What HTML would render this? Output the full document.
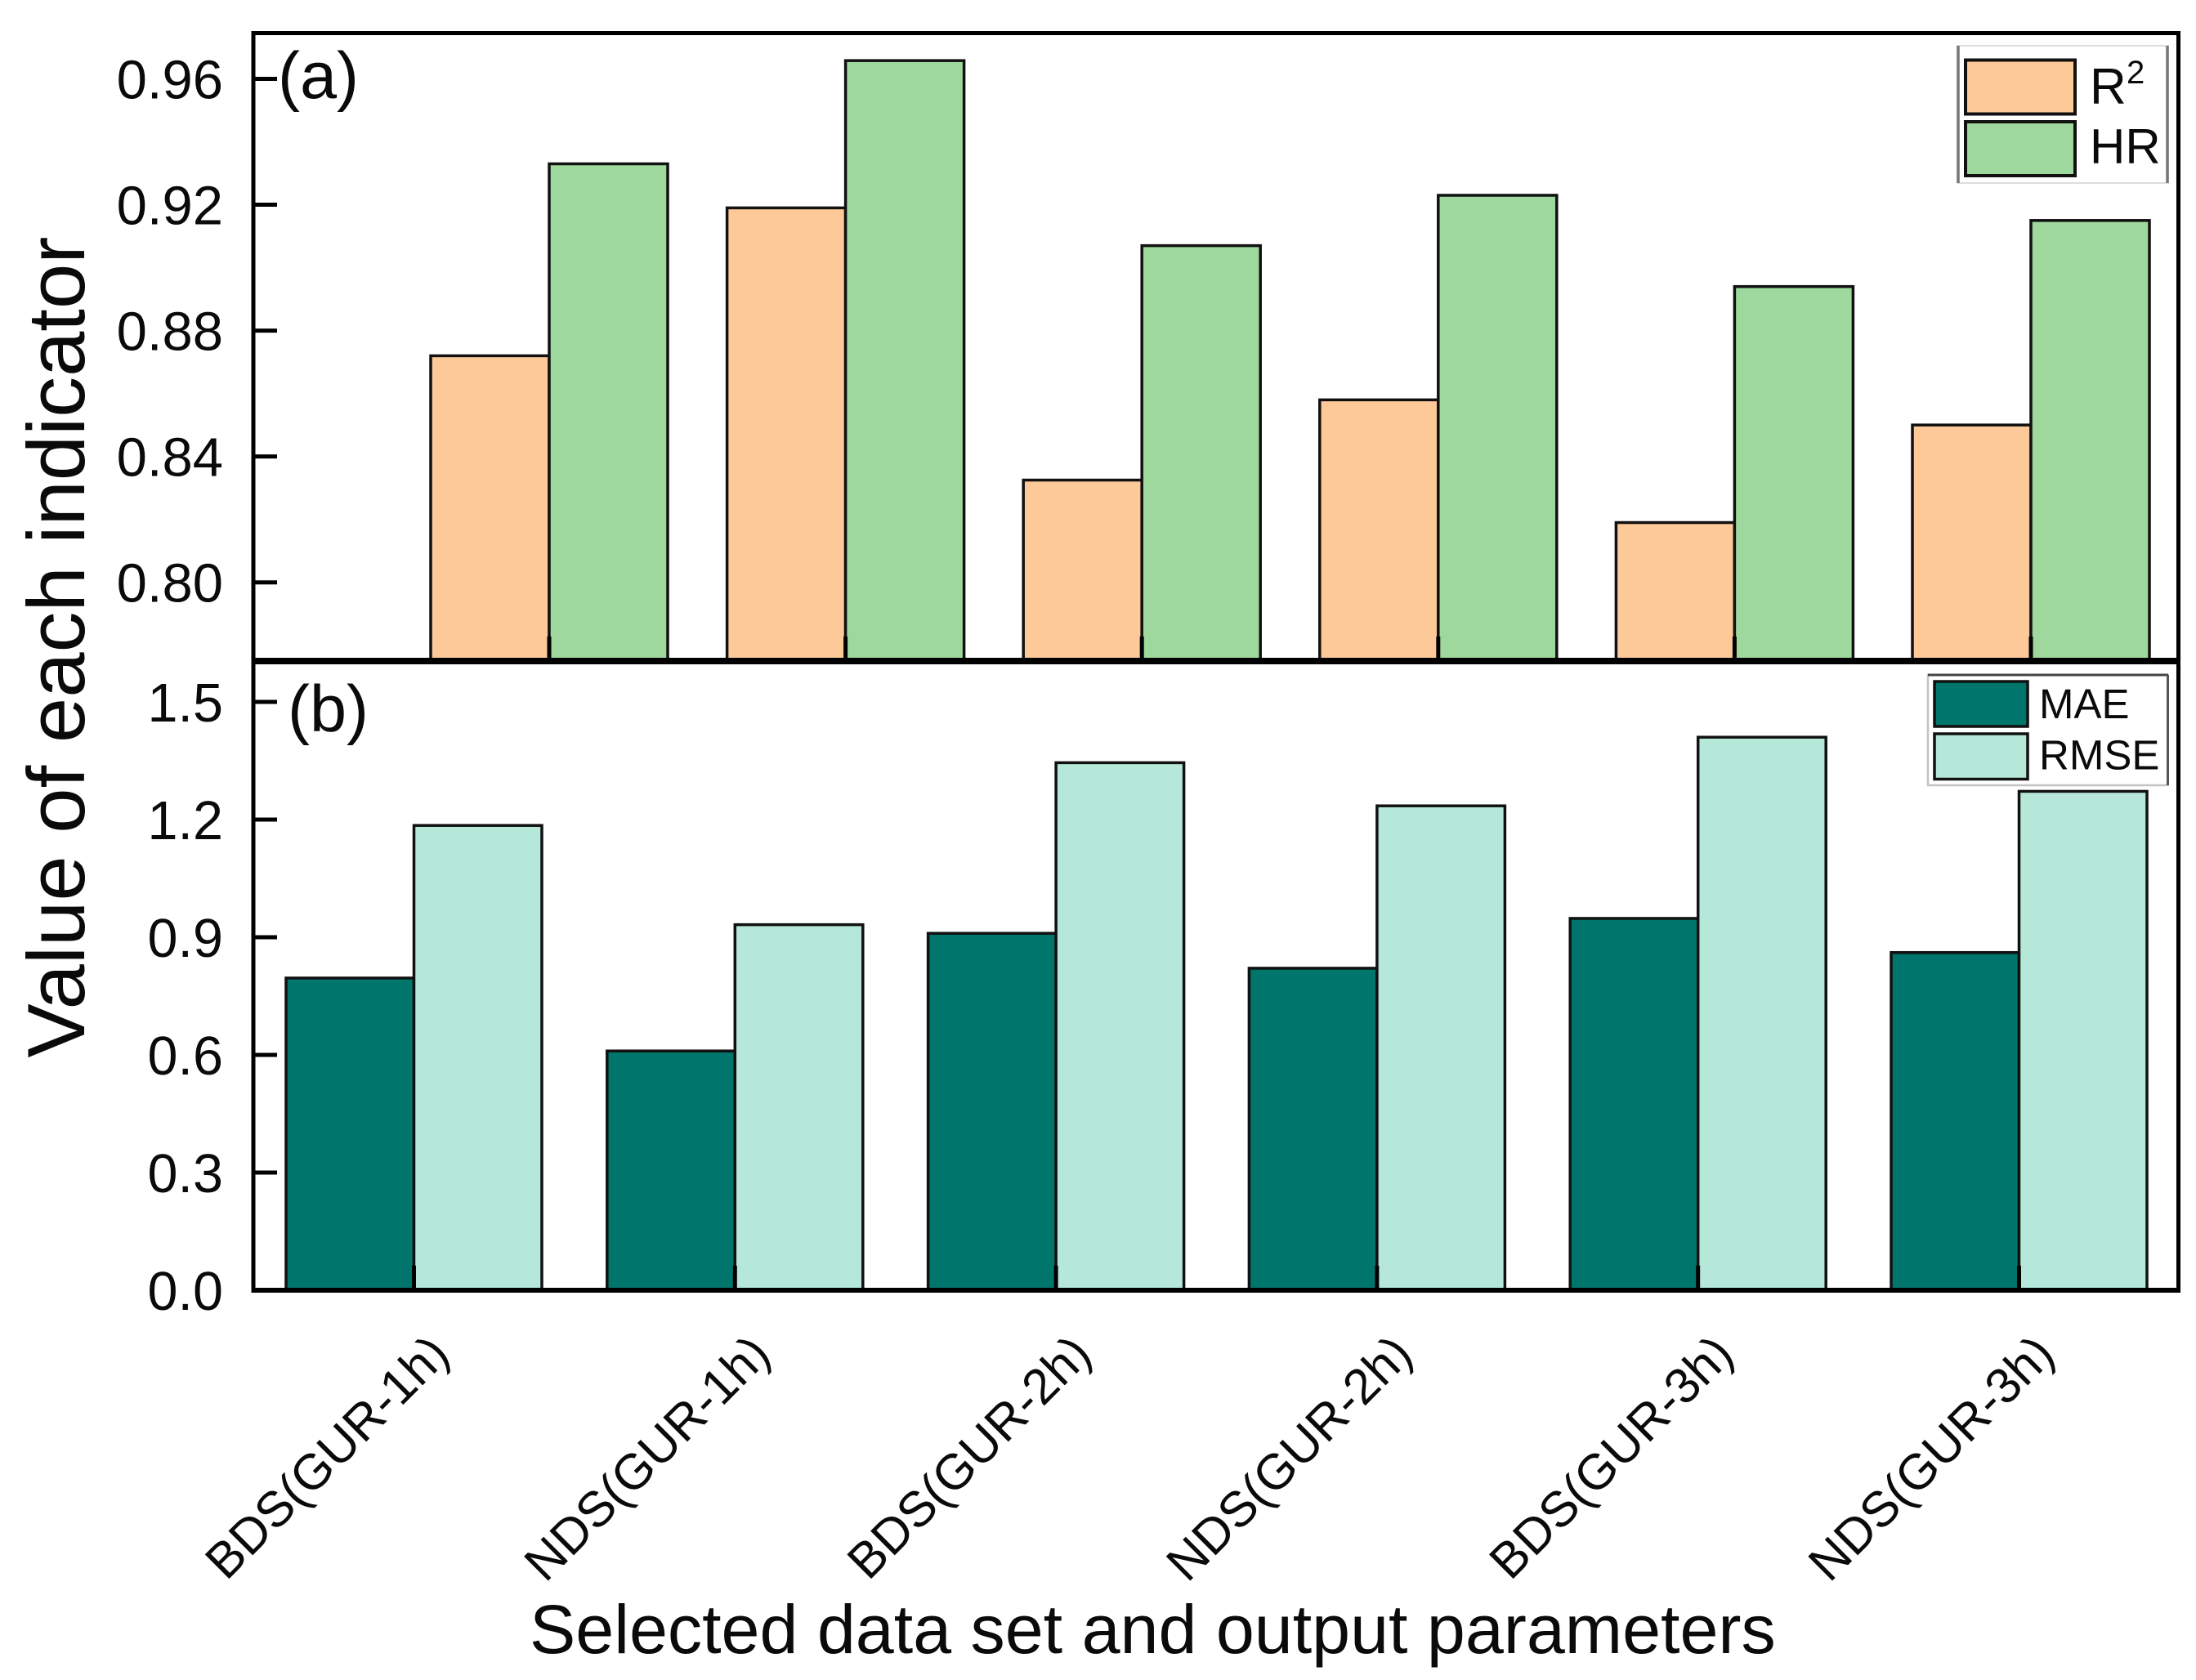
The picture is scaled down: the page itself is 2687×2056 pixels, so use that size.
<!DOCTYPE html>
<html lang="en">
<head>
<meta charset="utf-8">
<title>Value of each indicator</title>
<style>
html,body{margin:0;padding:0;background:#fff;}
svg{display:block;font-family:"Liberation Sans",Arial,sans-serif;fill:#0a0a0a;}
</style>
</head>
<body>
<svg id="chart" xmlns="http://www.w3.org/2000/svg" width="2687" height="2056" viewBox="0 0 2687 2056">
  <rect x="0" y="0" width="2687" height="2056" fill="#fff"/>
  <g id="bars"></g>
  <g id="ticks"></g>
  <g stroke="#000" fill="none">
    <line x1="307.5" x2="2668" y1="40.5" y2="40.5" stroke-width="5"/>
    <line x1="310" x2="310" y1="38" y2="1582" stroke-width="5"/>
    <line x1="2665.5" x2="2665.5" y1="38" y2="1582" stroke-width="5"/>
    <line x1="307.5" x2="2668" y1="809" y2="809" stroke-width="8"/>
    <line x1="307.5" x2="2668" y1="1579" y2="1579" stroke-width="6"/>
  </g>
  <text x="340" y="120" font-size="81">(a)</text>
  <text x="352" y="895" font-size="81">(b)</text>
  <text transform="translate(103 792) rotate(-90)" text-anchor="middle" font-size="99.5">Value of each indicator</text>
  <text x="648" y="2023" font-size="84.4">Selected data set and output parameters</text>

  <g>
    <rect x="2395" y="56" width="258" height="168" fill="#fff" stroke="#ddd" stroke-width="2"/>
    <line x1="2396" x2="2396" y1="56" y2="224" stroke="#777" stroke-width="3.5"/>
    <line x1="2652" x2="2652" y1="56" y2="224" stroke="#777" stroke-width="3.5"/>
    <rect x="2405" y="73.5" width="134" height="66" fill="#FDC998" stroke="#111" stroke-width="4"/>
    <rect x="2405" y="149" width="134" height="66" fill="#9FD89C" stroke="#111" stroke-width="4"/>
    <text x="2557" y="127" font-size="62">R</text>
    <text x="2602" y="102" font-size="40">2</text>
    <text x="2557" y="200" font-size="60">HR</text>
  </g>

  <g>
    <rect x="2359" y="826" width="293.5" height="135" fill="#fff" stroke="#c4c4c4" stroke-width="2.5"/>
    <line x1="2359" x2="2653" y1="826" y2="826" stroke="#444" stroke-width="3"/>
    <line x1="2652.5" x2="2652.5" y1="826" y2="961" stroke="#555" stroke-width="3"/>
    <rect x="2367" y="834" width="114" height="55" fill="#00756B" stroke="#111" stroke-width="3.5"/>
    <rect x="2367" y="898" width="114" height="55.5" fill="#B5E8D8" stroke="#111" stroke-width="3.5"/>
    <text x="2495" y="879" font-size="51">MAE</text>
    <text x="2495" y="941.5" font-size="51">RMSE</text>
  </g>
</svg>
<script>
const categories = ['BDS(GUR-1h)', 'NDS(GUR-1h)', 'BDS(GUR-2h)', 'NDS(GUR-2h)', 'BDS(GUR-3h)', 'NDS(GUR-3h)'];
const r2Values = [0.872, 0.919, 0.8325, 0.858, 0.819, 0.85];
const hrValues = [0.933, 0.9658, 0.907, 0.923, 0.894, 0.915];
const maeValues = [0.796, 0.61, 0.91, 0.821, 0.948, 0.861];
const rmseValues = [1.185, 0.932, 1.345, 1.235, 1.41, 1.272];
const ticksA = ['0.80', '0.84', '0.88', '0.92', '0.96'];
const ticksB = ['0.0', '0.3', '0.6', '0.9', '1.2', '1.5'];

const svgNS = 'http://www.w3.org/2000/svg';
const barsLayer = document.getElementById('bars');
const ticksLayer = document.getElementById('ticks');

function scale(d0, d1, r0, r1) {
  return function (v) { return r0 + (v - d0) / (d1 - d0) * (r1 - r0); };
}
const yA = scale(0.8, 0.96, 712.7, 96.5);
const yB = scale(0, 1.5, 1579, 859);
const xA = scale(0, 1, 672, 1034.6);
const xB = scale(0, 1, 506.5, 899.3);
const barWidthA = 145;
const barWidthB = 156.5;
const baseA = 809;
const baseB = 1579;

function make(tag, parent) {
  const el = document.createElementNS(svgNS, tag);
  parent.appendChild(el);
  return el;
}

function drawBar(x, top, w, base, fill, name) {
  const el = make('rect', barsLayer);
  el.setAttribute('x', x);
  el.setAttribute('y', top);
  el.setAttribute('width', w);
  el.setAttribute('height', Math.max(0, base - top));
  el.setAttribute('fill', fill);
  el.setAttribute('stroke', '#111');
  el.setAttribute('stroke-width', '3.5');
  
  
}

categories.forEach(function (cat, i) {
  const key = cat.toLowerCase().replace(/[()]/g, '-').replace(/-$/, '');
  drawBar(xA(i) - barWidthA, yA(r2Values[i]), barWidthA, baseA, '#FDC998', 'bar-r2-' + key);
  drawBar(xA(i), yA(hrValues[i]), barWidthA, baseA, '#9FD89C', 'bar-hr-' + key);
  drawBar(xB(i) - barWidthB, yB(maeValues[i]), barWidthB, baseB, '#00756B', 'bar-mae-' + key);
  drawBar(xB(i), yB(rmseValues[i]), barWidthB, baseB, '#B5E8D8', 'bar-rmse-' + key);

  const tickUpper = make('line', ticksLayer);
  tickUpper.setAttribute('x1', xA(i));
  tickUpper.setAttribute('x2', xA(i));
  tickUpper.setAttribute('y1', baseA);
  tickUpper.setAttribute('y2', baseA - 30);
  tickUpper.setAttribute('stroke', '#000');
  tickUpper.setAttribute('stroke-width', '5');
  
  

  const tickLower = make('line', ticksLayer);
  tickLower.setAttribute('x1', xB(i));
  tickLower.setAttribute('x2', xB(i));
  tickLower.setAttribute('y1', baseB);
  tickLower.setAttribute('y2', baseB - 30);
  tickLower.setAttribute('stroke', '#000');
  tickLower.setAttribute('stroke-width', '5');
  
  

  const label = make('text', ticksLayer);
  const ax = xB(i) + 46;
  const ay = 1660;
  label.setAttribute('transform', 'translate(' + ax + ' ' + ay + ') rotate(-45)');
  label.setAttribute('text-anchor', 'end');
  label.setAttribute('font-size', '61');
  
  
  label.textContent = cat;
});

function drawYTick(y, text, fontSize, baselineShift, prefix) {
  const tick = make('line', ticksLayer);
  tick.setAttribute('x1', 310);
  tick.setAttribute('x2', 339);
  tick.setAttribute('y1', y);
  tick.setAttribute('y2', y);
  tick.setAttribute('stroke', '#000');
  tick.setAttribute('stroke-width', '5');
  
  

  const label = make('text', ticksLayer);
  label.setAttribute('x', 273);
  label.setAttribute('y', y + baselineShift);
  label.setAttribute('text-anchor', 'end');
  label.setAttribute('font-size', fontSize);
  
  
  label.textContent = text;
}

ticksA.forEach(function (t) { drawYTick(yA(parseFloat(t)), t, 67, 24, 'panel-a'); });
ticksB.forEach(function (t) { drawYTick(yB(parseFloat(t)), t, 66.5, 24, 'panel-b'); });
</script>
</body>
</html>
